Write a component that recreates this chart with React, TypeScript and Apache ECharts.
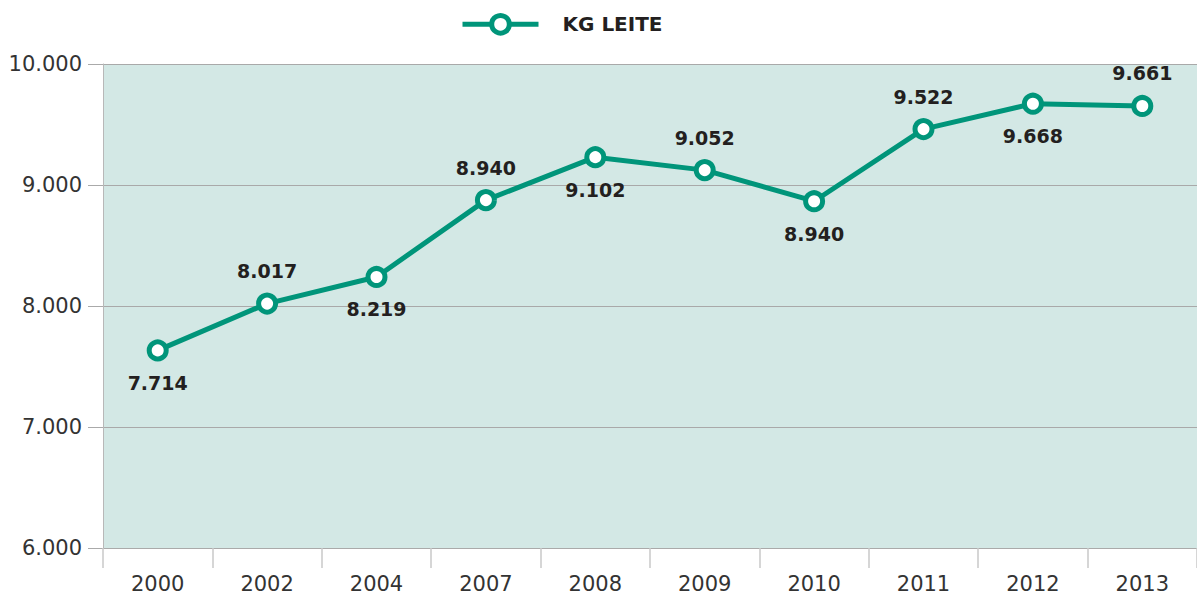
import React, { useEffect, useRef } from "react";
import * as echarts from "echarts";

const years = ["2000", "2002", "2004", "2007", "2008", "2009", "2010", "2011", "2012", "2013"];
const values = [7633, 8020, 8240, 8875, 9230, 9123, 8866, 9462, 9672, 9653];
const labels = ["7.714", "8.017", "8.219", "8.940", "9.102", "9.052", "8.940", "9.522", "9.668", "9.661"];
const labelSides = ["bottom", "top", "bottom", "top", "bottom", "top", "bottom", "top", "bottom", "top"];
const seriesName = "KG LEITE";

const TEAL = "#00957a";

export default function App() {
  const ref = useRef<HTMLDivElement>(null);
  useEffect(() => {
    document.body.style.margin = "0";
    const chart = echarts.init(ref.current!, null, { renderer: "svg" });
    chart.setOption({
      animation: false,
      textStyle: { fontFamily: "DejaVu Sans" },
      legend: {
        data: [seriesName],
        left: 460,
        top: 13,
        padding: 0,
        itemWidth: 76,
        itemHeight: 22,
        lineStyle: { width: 5, color: TEAL },
        itemStyle: { color: "#ffffff", borderColor: TEAL, borderWidth: 5 },
        textStyle: {
          fontFamily: "DejaVu Sans",
          fontWeight: "bold",
          fontSize: 20,
          color: "#231f20",
          padding: [0, 0, 0, 19],
        },
      },
      grid: {
        left: 103,
        right: 0,
        top: 64,
        bottom: 49,
        show: true,
        backgroundColor: "#d3e8e5",
        borderWidth: 0,
      },
      xAxis: {
        type: "category",
        data: years,
        boundaryGap: true,
        axisLine: { show: true, lineStyle: { color: "#aaaaaa", width: 1 } },
        axisTick: { show: true, length: 20, lineStyle: { color: "#c8c8c8", width: 1.5 } },
        axisLabel: { color: "#333333", fontSize: 21, margin: 25 },
      },
      yAxis: {
        type: "value",
        min: 6000,
        max: 10000,
        interval: 1000,
        axisLine: { show: true, lineStyle: { color: "#b8b8b8", width: 1 } },
        axisTick: { show: true, length: 15, lineStyle: { color: "#aaaaaa" } },
        splitLine: { show: true, lineStyle: { color: "#a9a9a9", width: 1 } },
        axisLabel: {
          color: "#333333",
          fontSize: 21,
          margin: 21,
          formatter: (v: number) => (v / 1000).toFixed(3),
        },
      },
      series: [
        {
          name: seriesName,
          type: "line",
          symbol: "circle",
          symbolSize: 17,
          lineStyle: { color: TEAL, width: 5 },
          itemStyle: { color: "#ffffff", borderColor: TEAL, borderWidth: 5 },
          data: values.map((v, i) => ({
            value: v,
            label: {
              show: true,
              position: labelSides[i],
              distance: 12,
              formatter: labels[i],
              fontFamily: "DejaVu Sans",
              fontWeight: "bold",
              fontSize: 19,
              color: "#231f20",
            },
          })),
        },
      ],
    });
    return () => chart.dispose();
  }, []);
  return <div ref={ref} style={{ width: 1197, height: 597 }} />;
}
